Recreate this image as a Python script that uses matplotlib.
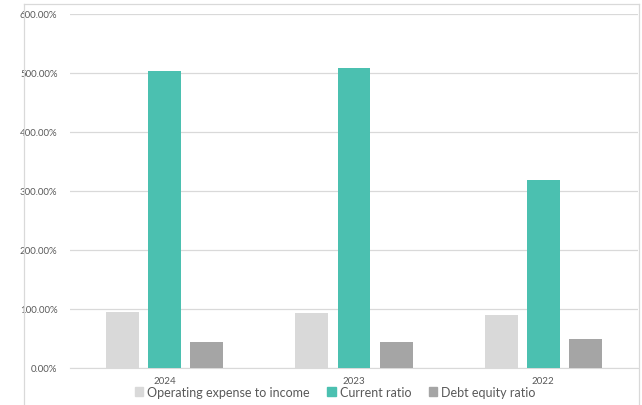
import numpy as np
import matplotlib.pyplot as plt
from matplotlib.lines import Line2D
from matplotlib.patches import Patch
from matplotlib.ticker import FuncFormatter

years = ["2024", "2023", "2022"]
operating_expense = [0.955, 0.927, 0.898]
current_ratio = [5.03, 5.08, 3.19]
debt_equity = [0.435, 0.446, 0.49]

series_names = ["Operating expense to income", "Current ratio", "Debt equity ratio"]
colors = ["#D9D9D9", "#4BC0B0", "#A5A5A5"]

plt.rcParams['font.family'] = ['Lato', 'DejaVu Sans']

fig = plt.figure(figsize=(6.42, 4.06), dpi=100)
ax = fig.add_axes([70/642, 1-369/406, (638-70)/642, (369-15)/406])

x = np.arange(len(years))
w = 0.174
off = 0.222
for i, vals in enumerate([operating_expense, current_ratio, debt_equity]):
    ax.bar(x + (i-1)*off, vals, w, color=colors[i], label=series_names[i], zorder=3)

ax.set_xlim(-0.5, 2.5)
ax.set_ylim(0, 6)
ax.set_yticks(np.arange(0, 7, 1))
ax.yaxis.set_major_formatter(FuncFormatter(lambda v, p: f"{v*100:.2f}%"))
ax.grid(axis='y', color='#D9D9D9', linewidth=0.9, zorder=0)
ax.set_xticks(x)
ax.set_xticklabels(years)
for s in ['top', 'right', 'left']:
    ax.spines[s].set_visible(False)
ax.spines['bottom'].set_color('#D9D9D9')
ax.tick_params(axis='y', length=0, pad=9, labelsize=7, labelcolor='#595959')
ax.tick_params(axis='x', length=0, pad=6, labelsize=7, labelcolor='#595959')

# chart frame
fc = '#D9D9D9'
fig.add_artist(Line2D([24/642, 24/642], [0, 1-5/406], color=fc, lw=0.9))
fig.add_artist(Line2D([24/642, 639/642], [1-5/406, 1-5/406], color=fc, lw=0.9))
fig.add_artist(Line2D([639/642, 639/642], [0, 1-5/406], color=fc, lw=0.9))

handles = [Patch(color=c) for c in colors]
fig.legend(handles, series_names, loc='center', bbox_to_anchor=(0.522, 1-393/406),
           ncol=3, frameon=False, fontsize=9, labelcolor='#595959',
           handlelength=0.7, handleheight=0.7, handletextpad=0.3, columnspacing=1.4)

fig.savefig("out.png", dpi=100)
